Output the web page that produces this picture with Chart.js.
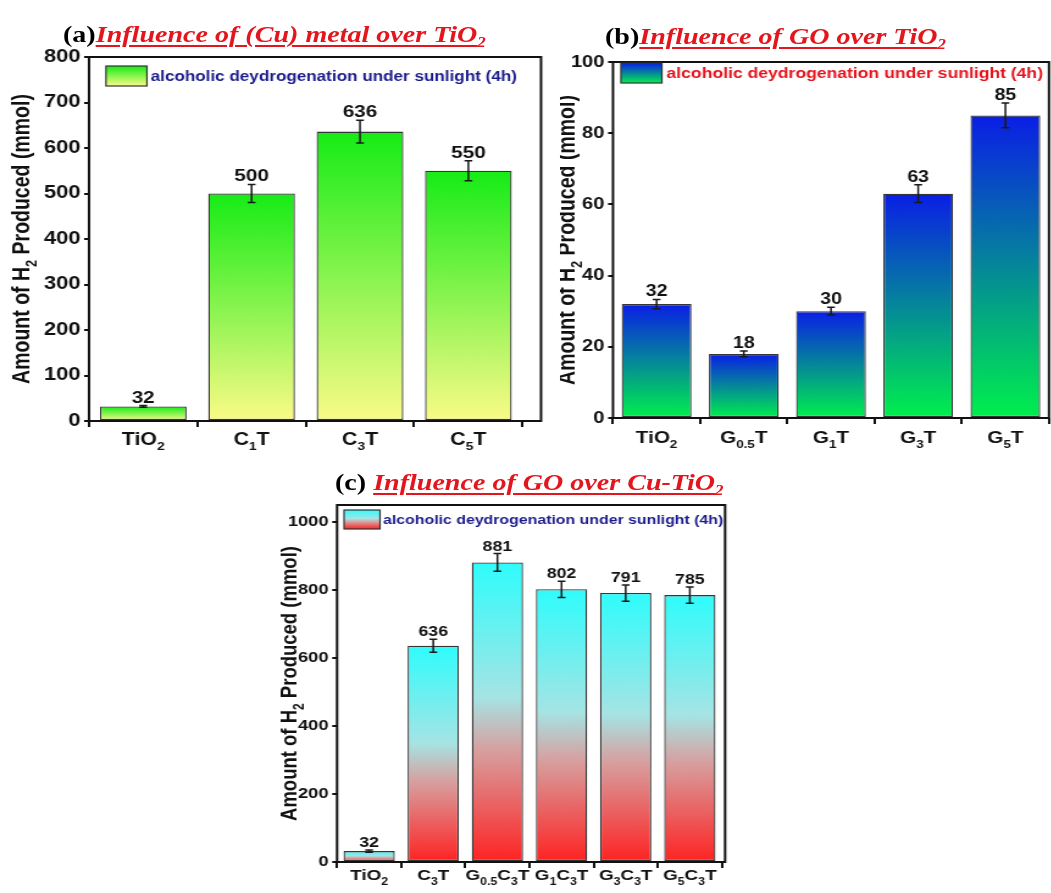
<!DOCTYPE html>
<html>
<head>
<meta charset="utf-8">
<script src="https://cdn.jsdelivr.net/npm/chart.js@4.4.1/dist/chart.umd.min.js"></script>
<style>
  html, body { margin: 0; padding: 0; background: #ffffff; overflow: hidden; }
  #stage { position: absolute; left: 0; top: 0; height: 893px; transform-origin: 0 0; }
  #stage canvas { position: absolute; }
  .ttl { position: absolute; white-space: nowrap; color: #000;
         font: bold 23px "Liberation Serif", "Times New Roman", serif; line-height: 23px; }
  .ttl .hd { color: #e3151d; font-style: italic; text-decoration: underline;
             text-decoration-color: #e3151d; text-decoration-thickness: 2px; text-underline-offset: 3px; }
  .ttl sub { font-size: 0.6em; vertical-align: -0.35em; line-height: 0; }
</style>
</head>
<body>
<div id="stage">
  <div class="ttl" id="ta"><span>(a)</span><span class="hd">Influence of (Cu) metal over TiO<sub>2</sub></span></div>
  <div class="ttl" id="tb"><span>(b)</span><span class="hd">Influence of GO over TiO<sub>2</sub></span></div>
  <div class="ttl" id="tc"><span>(c) </span><span class="hd">Influence of GO over Cu-TiO<sub>2</sub></span></div>
  <canvas id="ca"></canvas>
  <canvas id="cb"></canvas>
  <canvas id="cc"></canvas>
</div>
<script>
// ---- data: panel (a) Cu loading on TiO2 ----
const catsA = ['TiO_2', 'C_1T', 'C_3T', 'C_5T'];
const valsA = [32, 500, 636, 550];
const errA  = [2, 20, 25, 22];
const yTicksA = [0, 100, 200, 300, 400, 500, 600, 700, 800];

// ---- data: panel (b) GO loading on TiO2 ----
const catsB = ['TiO_2', 'G_{0.5}T', 'G_1T', 'G_3T', 'G_5T'];
const valsB = [32, 18, 30, 63, 85];
const errB  = [1.3, 0.8, 1.1, 2.5, 3.5];
const yTicksB = [0, 20, 40, 60, 80, 100];

// ---- data: panel (c) GO loading on Cu-TiO2 ----
const catsC = ['TiO_2', 'C_3T', 'G_{0.5}C_3T', 'G_1C_3T', 'G_3C_3T', 'G_5C_3T'];
const valsC = [32, 636, 881, 802, 791, 785];
const errC  = [3, 19, 26, 24, 24, 24];
const yTicksC = [0, 200, 400, 600, 800, 1000];

const legendText = 'alcoholic deydrogenation under sunlight (4h)';
const yTitle = 'Amount of H_2 Produced (mmol)';

// ---- page geometry ----
const STRETCH = 1.22;                // horizontal scale of the whole figure
const PAGE_W = 1051;
const SANS = '"Liberation Sans", Arial, Helvetica, sans-serif';
const ux = x => x / STRETCH;

const stage = document.getElementById('stage');
stage.style.width = ux(PAGE_W) + 'px';
stage.style.transform = 'scaleX(' + STRETCH + ')';

function placeTitle(id, x, top) {
  const el = document.getElementById(id);
  el.style.left = ux(x) + 'px';
  el.style.top = top + 'px';
}
placeTitle('ta', 63, 23);
placeTitle('tb', 605, 25);
placeTitle('tc', 335, 471);

// ---- rich text with subscripts (X_2, X_{0.5}) ----
function richParts(s) {
  const parts = [];
  let i = 0, buf = '';
  while (i < s.length) {
    const ch = s[i];
    if (ch === '_') {
      if (buf) { parts.push({ t: buf, sub: false }); buf = ''; }
      let t;
      if (s[i + 1] === '{') { const j = s.indexOf('}', i + 2); t = s.slice(i + 2, j); i = j + 1; }
      else { t = s[i + 1]; i += 2; }
      parts.push({ t, sub: true });
    } else { buf += ch; i++; }
  }
  if (buf) parts.push({ t: buf, sub: false });
  return parts;
}

function drawRich(ctx, s, x, y, size, align, color) {
  const parts = richParts(s);
  const f = 'bold ' + size + 'px ' + SANS;
  const fs = 'bold ' + (size * 0.65) + 'px ' + SANS;
  let w = 0;
  parts.forEach(p => { ctx.font = p.sub ? fs : f; p.w = ctx.measureText(p.t).width; w += p.w; });
  let cx = align === 'center' ? x - w / 2 : x;
  ctx.fillStyle = color;
  ctx.textAlign = 'left';
  ctx.textBaseline = 'alphabetic';
  parts.forEach(p => {
    ctx.font = p.sub ? fs : f;
    ctx.fillText(p.t, cx, y + (p.sub ? size * 0.3 : 0));
    cx += p.w;
  });
}

function makeGradient(ctx, top, bottom, stops) {
  const g = ctx.createLinearGradient(0, top, 0, bottom);
  stops.forEach(s => g.addColorStop(s[0], s[1]));
  return g;
}

// ---- frame, error bars, value labels, category labels, legend, axis title ----
const decor = {
  id: 'panelDecor',
  afterDraw(chart) {
    const o = chart.options.plugins.panelDecor;
    const ctx = chart.ctx, a = chart.chartArea;
    const xs = chart.scales.x, ys = chart.scales.y;
    ctx.save();

    // error bars and value labels
    ctx.strokeStyle = '#1a1a1a';
    ctx.lineWidth = 1.5;
    o.vals.forEach((v, i) => {
      const x = xs.getPixelForValue(i + 1);
      const yt = ys.getPixelForValue(v + o.errs[i]);
      const yb = ys.getPixelForValue(v - o.errs[i]);
      ctx.beginPath();
      ctx.moveTo(x, yt); ctx.lineTo(x, yb);
      ctx.moveTo(x - o.cap, yt); ctx.lineTo(x + o.cap, yt);
      ctx.moveTo(x - o.cap, yb); ctx.lineTo(x + o.cap, yb);
      ctx.stroke();
      ctx.font = 'bold ' + o.valSize + 'px ' + SANS;
      ctx.fillStyle = '#111';
      ctx.textAlign = 'center';
      ctx.textBaseline = 'alphabetic';
      ctx.fillText(String(v), x, yt - 3);
    });

    // plot frame
    ctx.strokeStyle = '#111';
    ctx.lineWidth = 2;
    ctx.strokeRect(a.left, a.top, a.right - a.left, a.bottom - a.top);

    // category labels with subscripts
    o.cats.forEach((c, i) => {
      drawRich(ctx, c, xs.getPixelForValue(i + 1), a.bottom + o.catBase, o.catSize, 'center', '#111');
    });

    // legend entry
    const L = o.legend;
    const bx = a.left + L.dx, by = a.top + L.dy;
    ctx.fillStyle = makeGradient(ctx, by, by + L.h, o.stops);
    ctx.fillRect(bx, by, L.w, L.h);
    ctx.strokeStyle = '#333';
    ctx.lineWidth = 1.2;
    ctx.strokeRect(bx, by, L.w, L.h);
    ctx.font = 'bold ' + L.size + 'px ' + SANS;
    ctx.fillStyle = L.color;
    ctx.textAlign = 'left';
    ctx.textBaseline = 'middle';
    ctx.fillText(legendText, bx + L.w + L.gap, by + L.h / 2 + 1);

    // y axis title
    ctx.translate(a.left - o.titleDx, (a.top + a.bottom) / 2);
    ctx.rotate(-Math.PI / 2);
    drawRich(ctx, yTitle, 0, o.titleSize * 0.36, o.titleSize, 'center', '#111');
    ctx.restore();
  }
};

function makePanel(id, p) {
  const cv = document.getElementById(id);
  const W = Math.round(ux(p.canvas.w));
  const H = p.canvas.h;
  cv.width = W; cv.height = H;
  cv.style.left = ux(p.canvas.x) + 'px';
  cv.style.top = p.canvas.y + 'px';
  cv.style.width = W + 'px';
  cv.style.height = H + 'px';

  const yWidth = ux(p.area.l) - ux(p.canvas.x);
  const padR = W - (ux(p.area.r) - ux(p.canvas.x));
  const padT = p.area.t - p.canvas.y;
  const xHeight = p.canvas.y + H - p.area.b;

  const tickGrid = { display: true, drawOnChartArea: false, drawTicks: true, color: '#111', lineWidth: 2 };

  return new Chart(cv, {
    type: 'bar',
    data: {
      datasets: [{
        data: p.vals.map((v, i) => ({ x: i + 1, y: v })),
        backgroundColor: (c) => {
          const ch = c.chart;
          if (!ch.chartArea || !c.raw) return p.stops[0][1];
          const ysc = ch.scales.y;
          return makeGradient(ch.ctx, ysc.getPixelForValue(c.raw.y), ysc.getPixelForValue(0), p.stops);
        },
        borderColor: '#353535',
        borderWidth: 1.3,
        borderSkipped: false,
        barPercentage: 0.8,
        categoryPercentage: 1
      }]
    },
    options: {
      responsive: false,
      animation: false,
      events: [],
      layout: { padding: { left: 0, right: padR, top: padT, bottom: 0 } },
      plugins: {
        legend: { display: false },
        tooltip: { enabled: false },
        panelDecor: {
          cats: p.cats, vals: p.vals, errs: p.errs, stops: p.stops,
          cap: 3.2, valSize: p.valSize, catSize: p.catSize, catBase: p.catBase,
          legend: p.legend, titleDx: p.titleDx, titleSize: p.titleSize
        }
      },
      scales: {
        x: {
          type: 'linear', min: 0.5, max: p.xMax, offset: false,
          afterBuildTicks: s => { s.ticks = p.cats.map((c, i) => ({ value: i + 1 })); },
          afterFit: s => { s.height = xHeight; },
          ticks: { display: false },
          grid: Object.assign({ tickLength: 6 }, tickGrid),
          border: { display: false }
        },
        y: {
          min: 0, max: p.yMax,
          afterBuildTicks: s => { s.ticks = p.yTicks.map(v => ({ value: v })); },
          afterFit: s => { s.width = yWidth; },
          ticks: {
            color: '#111', padding: 3,
            font: { family: SANS, weight: 'bold', size: p.tickSize },
            callback: v => String(v)
          },
          grid: Object.assign({ tickLength: 4 }, tickGrid),
          border: { display: false }
        }
      }
    },
    plugins: [decor]
  });
}

makePanel('ca', {
  canvas: { x: 0, y: 40, w: 560, h: 420 },
  area: { l: 89, r: 541, t: 57, b: 421 },
  cats: catsA, vals: valsA, errs: errA, yTicks: yTicksA, yMax: 800, xMax: 4.67,
  stops: [[0, '#16ec16'], [1, '#fbfb88']],
  tickSize: 18, valSize: 17, catSize: 17.5, catBase: 24,
  titleDx: 56, titleSize: 19.5,
  legend: { dx: 13.9, dy: 9, w: 33.6, h: 20, gap: 3, size: 14, color: '#1b1b8c' }
});

makePanel('cb', {
  canvas: { x: 560, y: 40, w: 491, h: 420 },
  area: { l: 613, r: 1049, t: 62, b: 418 },
  cats: catsB, vals: valsB, errs: errB, yTicks: yTicksB, yMax: 100, xMax: 5.5,
  stops: [[0, '#0a1ee6'], [1, '#00f04c']],
  tickSize: 16.5, valSize: 16, catSize: 17, catBase: 25,
  titleDx: 38, titleSize: 19.5,
  legend: { dx: 6.5, dy: 1, w: 33.6, h: 20, gap: 3.8, size: 14.4, color: '#e5131c' }
});

makePanel('cc', {
  canvas: { x: 200, y: 460, w: 546, h: 433 },
  area: { l: 337, r: 725, t: 505, b: 862 },
  cats: catsC, vals: valsC, errs: errC, yTicks: yTicksC, yMax: 1050, xMax: 6.55,
  stops: [[0, '#2ffcfc'], [0.45, '#a6e4e4'], [0.62, '#d6a2a2'], [1, '#ff2222']],
  tickSize: 15, valSize: 14.5, catSize: 15.5, catBase: 18,
  titleDx: 40, titleSize: 18.5,
  legend: { dx: 5.7, dy: 5, w: 29.5, h: 19, gap: 2.5, size: 13, color: '#1b1b8c' }
});
</script>
</body>
</html>
